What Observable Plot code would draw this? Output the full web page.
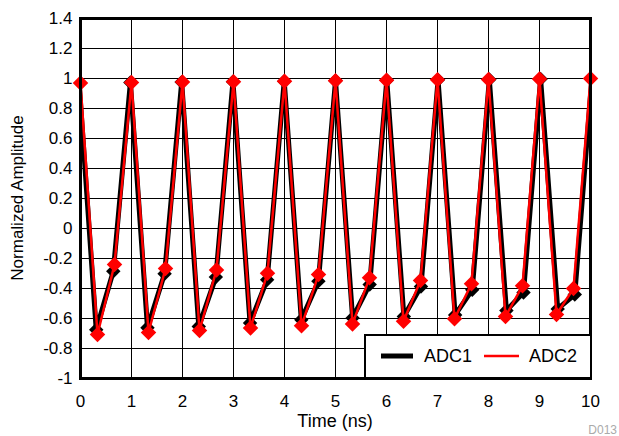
<!DOCTYPE html>
<html>
<head>
<meta charset="utf-8">
<script src="https://cdn.jsdelivr.net/npm/d3@7"></script>
<script src="https://cdn.jsdelivr.net/npm/@observablehq/plot@0.6"></script>
<style>
  body { margin: 0; background: white; }
  #chart { position: relative; width: 619px; height: 436px; }
</style>
</head>
<body>
<div id="chart"></div>
<script>
// Sample index (31 samples, one every 1/3 ns)
const sampleIndex = d3.range(31);
// ADC2 sample times (ns)
const timeADC2 = sampleIndex.map(k => k / 3);
// ADC1 sample times (ns): slightly wider sample window, clipped at the axis edges
const adc1Start = -0.027, adc1End = 10.027;
const timeADC1 = sampleIndex.map(k => adc1Start + k * (adc1End - adc1Start) / 30);

const adc1 = [0.97, -0.675, -0.285, 0.973, -0.662, -0.302, 0.976, -0.653, -0.324,
  0.979, -0.63, -0.342, 0.982, -0.609, -0.351, 0.985, -0.596, -0.373, 0.988, -0.587,
  -0.387, 0.991, -0.576, -0.409, 0.994, -0.547, -0.427, 0.997, -0.536, -0.44, 1.0];
const adc2 = [0.97, -0.707, -0.24, 0.973, -0.693, -0.267, 0.976, -0.68, -0.276,
  0.979, -0.664, -0.298, 0.982, -0.649, -0.307, 0.985, -0.636, -0.329, 0.988, -0.618,
  -0.347, 0.991, -0.602, -0.369, 0.994, -0.587, -0.382, 0.997, -0.573, -0.4, 1.0];

const xTicks = [0, 1, 2, 3, 4, 5, 6, 7, 8, 9, 10];
const yTicks = [-1, -0.8, -0.6, -0.4, -0.2, 0, 0.2, 0.4, 0.6, 0.8, 1, 1.2, 1.4];
const seriesNames = ["ADC1", "ADC2"];

const d1 = sampleIndex.map(i => ({t: timeADC1[i], v: adc1[i]}));
const d2 = sampleIndex.map(i => ({t: timeADC2[i], v: adc2[i]}));
const d1Visible = d1.filter(d => d.t >= 0 && d.t <= 10);

const W = 619, H = 436, mL = 80, mR = 29, mT = 18, mB = 58;
const font = "'Liberation Sans', Arial, sans-serif";

const chart = Plot.plot({
  width: W, height: H,
  marginLeft: mL, marginRight: mR, marginTop: mT, marginBottom: mB,
  style: {fontFamily: font, fontSize: "17px", color: "black", background: "white"},
  x: {domain: [0, 10]},
  y: {domain: [-1, 1.4]},
  marks: [
    Plot.gridX(xTicks, {stroke: "black", strokeOpacity: 1, strokeWidth: 1}),
    Plot.gridY(yTicks, {stroke: "black", strokeOpacity: 1, strokeWidth: 1}),
    Plot.line(d1, {x: "t", y: "v", stroke: "black", strokeWidth: 5, clip: true}),
    Plot.dot(d1Visible, {x: "t", y: "v", symbol: "diamond2", r: 6.5, fill: "black", stroke: "none"}),
    Plot.line(d2, {x: "t", y: "v", stroke: "#ff0000", strokeWidth: 2.5, clip: true}),
    Plot.dot(d2, {x: "t", y: "v", symbol: "diamond2", r: 7, fill: "#ff0000", stroke: "none"}),
    Plot.frame({stroke: "black", strokeWidth: 3}),
    Plot.axisX(xTicks, {tickSize: 0, tickPadding: 16, fontSize: 17, label: null}),
    Plot.axisY(yTicks, {tickSize: 0, tickPadding: 8, fontSize: 17, label: null,
      tickFormat: d => String(+d.toFixed(1))})
  ]
});

document.getElementById("chart").appendChild(chart);

const svg = d3.select(chart);
// Axis titles
svg.append("text")
  .attr("x", mL + (W - mL - mR) / 2).attr("y", 427)
  .attr("text-anchor", "middle")
  .style("font-family", font).style("font-size", "18px")
  .text("Time (ns)");
svg.append("text")
  .attr("transform", `translate(23, ${mT + (H - mT - mB) / 2}) rotate(-90)`)
  .attr("text-anchor", "middle")
  .style("font-family", font).style("font-size", "17px")
  .text("Normalized Amplitude");
// Legend
const lg = svg.append("g").attr("text-anchor", "start");
lg.append("rect").attr("x", 365).attr("y", 335).attr("width", 226).attr("height", 43)
  .attr("fill", "white").attr("stroke", "black").attr("stroke-width", 2);
lg.append("line").attr("x1", 381).attr("x2", 413).attr("y1", 356).attr("y2", 356)
  .attr("stroke", "black").attr("stroke-width", 5);
lg.append("text").attr("x", 424).attr("y", 362).attr("text-anchor", "start")
  .style("font-family", font).style("font-size", "18px").text(seriesNames[0]);
lg.append("line").attr("x1", 484).attr("x2", 519).attr("y1", 356).attr("y2", 356)
  .attr("stroke", "#ff0000").attr("stroke-width", 2.5);
lg.append("text").attr("x", 529).attr("y", 362).attr("text-anchor", "start")
  .style("font-family", font).style("font-size", "18px").text(seriesNames[1]);
// Figure id
svg.append("text").attr("x", 617).attr("y", 434).attr("text-anchor", "end")
  .style("font-family", font).style("font-size", "12px").attr("fill", "#aaaaaa")
  .text("D013");
</script>
</body>
</html>
